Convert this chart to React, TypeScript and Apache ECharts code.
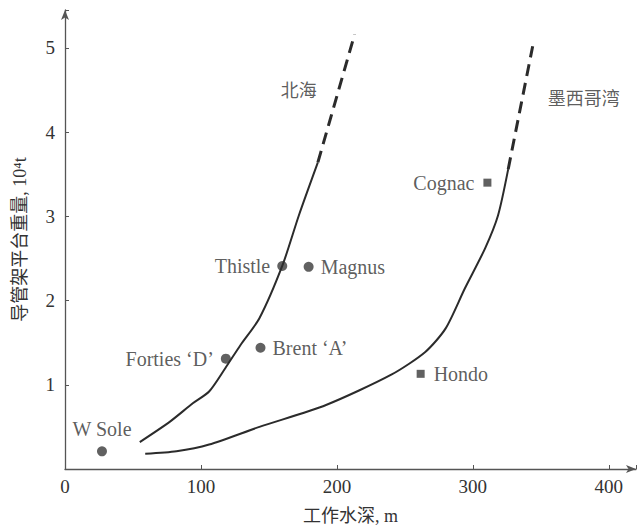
import React, { useEffect, useRef } from "react";
import * as echarts from "echarts";

const xTicks = [0, 100, 200, 300, 400];
const yTicks = [1, 2, 3, 4, 5];

const northSolid: number[][] = [
  [55, 0.32], [77, 0.56], [94, 0.78], [106, 0.92], [118, 1.2], [129, 1.47],
  [143, 1.79], [160, 2.42], [172, 3.01], [186, 3.64],
];
const northDash: number[][] = [[186, 3.64], [213, 5.16]];
const gulfSolid: number[][] = [
  [59, 0.18], [82, 0.21], [106, 0.29], [143, 0.5], [192, 0.76], [240, 1.12],
  [265, 1.39], [280, 1.67], [294, 2.14], [309, 2.62], [318.5, 3.01], [326, 3.56],
];
const gulfDash: number[][] = [[326, 3.56], [344, 5.02]];

const northNames = ["W Sole", "Forties \u2018D\u2019", "Brent \u2018A\u2019", "Thistle", "Magnus"];
const northValues: number[][] = [[27.2, 0.21], [118.3, 1.31], [143.8, 1.44], [159.8, 2.41], [179.2, 2.4]];
const northLabelPos = ["top", "left", "right", "left", "right"];

const gulfNames = ["Cognac", "Hondo"];
const gulfValues: number[][] = [[310.7, 3.4], [261.6, 1.13]];
const gulfLabelPos = ["left", "right"];

const regionNames = ["北海", "墨西哥湾"];
const regionValues: number[][] = [[172, 4.49], [381.5, 4.39]];

const SERIF = "'Liberation Serif', 'Noto Sans CJK SC', serif";
const INK = "#2b2b2b";
const TEXT = "#333";

export default function App() {
  const ref = useRef<HTMLDivElement>(null);
  useEffect(() => {
    if (!ref.current) return;
    const chart = echarts.init(ref.current, null, { renderer: "svg" });
    const lineBase = {
      type: "line",
      smooth: 0.25,
      symbol: "none",
      silent: true,
    };
    chart.setOption({
      animation: false,
      backgroundColor: "#fff",
      grid: { left: 65, right: 1, top: 10, bottom: 59, containLabel: false },
      xAxis: {
        type: "value",
        min: 0,
        max: 420,
        interval: 100,
        name: "工作水深, m",
        nameLocation: "middle",
        nameGap: 38,
        nameTextStyle: { fontFamily: SERIF, fontSize: 18, color: TEXT },
        axisLine: { lineStyle: { color: "#555", width: 1.3 }, symbol: ["none", "arrow"], symbolSize: [6, 10] },
        axisTick: { inside: true, length: 4, lineStyle: { color: "#555" } },
        axisLabel: {
          fontFamily: SERIF, fontSize: 19, color: TEXT, margin: 8,
          formatter: (v: number) => (xTicks.includes(v) ? String(v) : ""),
        },
        splitLine: { show: false },
      },
      yAxis: {
        type: "value",
        min: 0,
        max: 5.45,
        interval: 1,
        name: "导管架平台重量, 10⁴t",
        nameLocation: "middle",
        nameRotate: 90,
        nameGap: 36,
        nameTextStyle: { fontFamily: SERIF, fontSize: 18, color: TEXT },
        axisLine: { lineStyle: { color: "#555", width: 1.3 }, symbol: ["none", "arrow"], symbolSize: [6, 10] },
        axisTick: { inside: true, length: 4, lineStyle: { color: "#555" } },
        axisLabel: {
          fontFamily: SERIF, fontSize: 19, color: TEXT, margin: 10,
          formatter: (v: number) => (yTicks.includes(v) ? String(v) : ""),
        },
        splitLine: { show: false },
      },
      series: [
        { ...lineBase, data: northSolid, lineStyle: { color: INK, width: 2 } },
        { ...lineBase, smooth: false, data: northDash, lineStyle: { color: INK, width: 3, type: [12, 7] } },
        { ...lineBase, data: gulfSolid, lineStyle: { color: INK, width: 2 } },
        { ...lineBase, smooth: false, data: gulfDash, lineStyle: { color: INK, width: 3, type: [12, 7] } },
        {
          type: "scatter",
          symbol: "circle",
          symbolSize: 10,
          itemStyle: { color: "#3a3a3a" },
          data: northValues.map((v, i) => ({
            value: v,
            name: northNames[i],
            label: { position: northLabelPos[i] },
          })),
          label: {
            show: true,
            formatter: "{b}",
            distance: 7,
            fontFamily: SERIF,
            fontSize: 20,
            color: TEXT,
          },
        },
        {
          type: "scatter",
          symbol: "rect",
          symbolSize: 8,
          itemStyle: { color: "#3a3a3a" },
          data: gulfValues.map((v, i) => ({
            value: v,
            name: gulfNames[i],
            label: { position: gulfLabelPos[i] },
          })),
          label: {
            show: true,
            formatter: "{b}",
            distance: 9,
            fontFamily: SERIF,
            fontSize: 20,
            color: TEXT,
          },
        },
        {
          type: "scatter",
          symbolSize: 1,
          itemStyle: { color: "rgba(0,0,0,0)" },
          data: regionValues.map((v, i) => ({ value: v, name: regionNames[i] })),
          label: {
            show: true,
            position: "inside",
            formatter: "{b}",
            fontFamily: SERIF,
            fontSize: 18,
            color: TEXT,
          },
        },
      ],
    });
    return () => chart.dispose();
  }, []);
  return (
    <div
      ref={ref}
      style={{ position: "fixed", left: 0, top: 0, width: 639, height: 530, background: "#fff" }}
    />
  );
}
